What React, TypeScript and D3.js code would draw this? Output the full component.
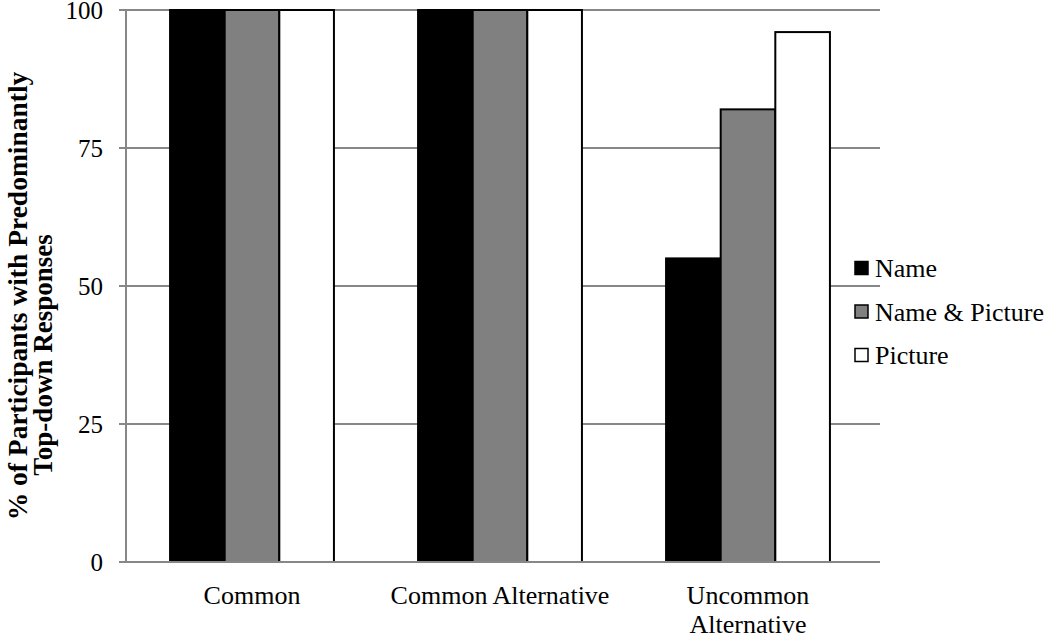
import React from 'react';
import * as d3 from 'd3';

const categories = ['Common', 'Common Alternative', 'Uncommon Alternative'];
const categoryLines = [['Common'], ['Common Alternative'], ['Uncommon', 'Alternative']];
const seriesNames = ['Name', 'Name & Picture', 'Picture'];
const seriesColors = ['#000000', '#808080', '#ffffff'];
const nameValues = [100, 100, 55];
const namePictureValues = [100, 100, 82];
const pictureValues = [100, 100, 96];
const yTicks = [0, 25, 50, 75, 100];
const yTitle = ['% of Participants with Predominantly', 'Top-down Responses'];

const seriesValues = [nameValues, namePictureValues, pictureValues];

const width = 1050;
const height = 635;
const padding = { top: 10, right: 170, bottom: 73, left: 126 };
const font = "'Liberation Serif', 'Times New Roman', Tinos, 'DejaVu Serif', serif";

const App = () => {
  // groups sit slightly inside the plot frame
  const x0 = d3
    .scaleBand<string>()
    .domain(categories)
    .range([padding.left + 2, width - padding.right - 8]);

  const x1 = d3
    .scaleBand<string>()
    .domain(seriesNames)
    .range([0, x0.bandwidth()])
    .paddingInner(0)
    .paddingOuter(0.77);

  const y = d3
    .scaleLinear()
    .domain([0, 100])
    .range([height - padding.bottom, padding.top]);

  const gridColor = '#878787';

  return (
    <svg
      width={width}
      height={height}
      viewBox={`0 0 ${width} ${height}`}
      style={{ position: 'absolute', left: 0, top: 0, background: '#fff', fontFamily: font }}
    >
      <g className="grid">
        {yTicks.map((t) => (
          <line
            key={t}
            x1={padding.left - 7}
            x2={width - padding.right}
            y1={y(t)}
            y2={y(t)}
            stroke={gridColor}
            strokeWidth={2}
          />
        ))}
      </g>
      <g className="bars">
        {categories.map((c, ci) => (
          <g key={c} transform={`translate(${x0(c)},0)`}>
            {seriesNames.map((s, si) => (
              <rect
                key={s}
                x={x1(s)}
                y={y(seriesValues[si][ci])}
                width={x1.bandwidth()}
                height={y(0) - y(seriesValues[si][ci])}
                fill={seriesColors[si]}
                stroke="#000"
                strokeWidth={2}
              />
            ))}
          </g>
        ))}
      </g>
      <g className="axis">
        <line
          x1={padding.left}
          x2={padding.left}
          y1={y(100)}
          y2={y(0)}
          stroke={gridColor}
          strokeWidth={2}
        />
        <line
          x1={padding.left - 7}
          x2={width - padding.right}
          y1={y(0)}
          y2={y(0)}
          stroke={gridColor}
          strokeWidth={2}
        />
        {yTicks.map((t) => (
          <text
            key={t}
            x={103}
            y={y(t)}
            dy="0.35em"
            textAnchor="end"
            fontSize={25}
          >
            {t}
          </text>
        ))}
        {categories.map((c, ci) => (
          <text
            key={c}
            x={(x0(c) ?? 0) + x0.bandwidth() / 2}
            y={604}
            textAnchor="middle"
            fontSize={26}
          >
            {categoryLines[ci].map((line, li) => (
              <tspan key={li} x={(x0(c) ?? 0) + x0.bandwidth() / 2} dy={li === 0 ? 0 : 29}>
                {line}
              </tspan>
            ))}
          </text>
        ))}
      </g>
      <g className="title">
        <text
          transform={`translate(27,296) rotate(-90)`}
          textAnchor="middle"
          fontSize={27.5}
          fontWeight="bold"
        >
          {yTitle[0]}
        </text>
        <text
          transform={`translate(52,355) rotate(-90)`}
          textAnchor="middle"
          fontSize={27}
          fontWeight="bold"
        >
          {yTitle[1]}
        </text>
      </g>
      <g className="legend">
        {seriesNames.map((s, i) => (
          <g key={s} transform={`translate(855,${268 + i * 43.5})`}>
            <rect
              x={0}
              y={-6.5}
              width={13}
              height={13}
              fill={seriesColors[i]}
              stroke="#000"
              strokeWidth={1.5}
            />
            <text x={20} y={0} dy="0.35em" fontSize={26}>
              {s}
            </text>
          </g>
        ))}
      </g>
    </svg>
  );
};

export default App;
